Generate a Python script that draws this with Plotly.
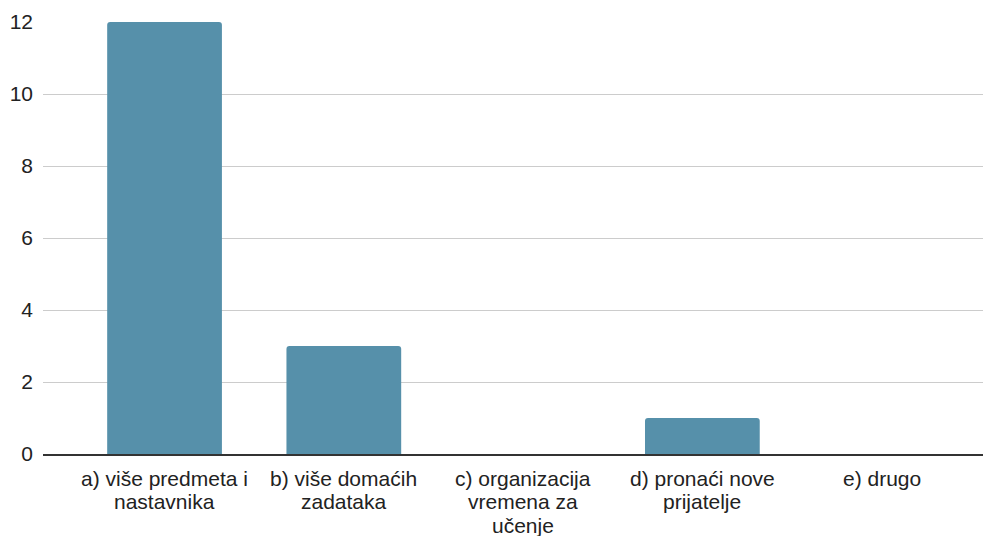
import plotly.graph_objects as go

categories = ["a) više predmeta i<br>nastavnika", "b) više domaćih<br>zadataka",
              "c) organizacija<br>vremena za<br>učenje", "d) pronaći nove<br>prijatelje", "e) drugo"]
values = [12, 3, 0, 1, 0]
y_ticks = [0, 2, 4, 6, 8, 10, 12]

FONT = "Liberation Sans, Arial, sans-serif"
x_idx = list(range(len(categories)))

fig = go.Figure(go.Bar(
    x=x_idx, y=values,
    marker=dict(color="#5690aa", cornerradius=3, line=dict(width=0)),
    width=0.64,
))

# category labels, one annotation per line to get the tight line spacing
annotations = []
for i, label in enumerate(categories):
    for j, line in enumerate(label.split("<br>")):
        annotations.append(dict(
            x=i, xref="x", y=0, yref="paper", yanchor="middle", xanchor="center",
            yshift=-24 - 23.5 * j, text=line, showarrow=False,
            font=dict(family=FONT, size=21, color="#222"),
        ))

# page body has an 8px margin: shrink the figure so the plot lands where the reference has it
fig.update_layout(
    width=983, height=528,
    margin=dict(l=35, r=0, t=14, b=82),
    paper_bgcolor="white", plot_bgcolor="white",
    font=dict(family=FONT, size=21, color="#222"),
    showlegend=False,
    annotations=annotations,
    xaxis=dict(
        tickvals=x_idx, showticklabels=False, automargin=False,
        range=[-0.678, 4.61], showgrid=False, zeroline=False,
        showline=True, linecolor="#333", linewidth=1.5, ticks="",
    ),
    yaxis=dict(
        range=[0, 12], tickvals=y_ticks, showgrid=True, gridcolor="#cccccc", gridwidth=1,
        zeroline=False, showline=False, ticks="", ticklabelstandoff=9, automargin=False,
    ),
)

fig.write_html("out.html")
